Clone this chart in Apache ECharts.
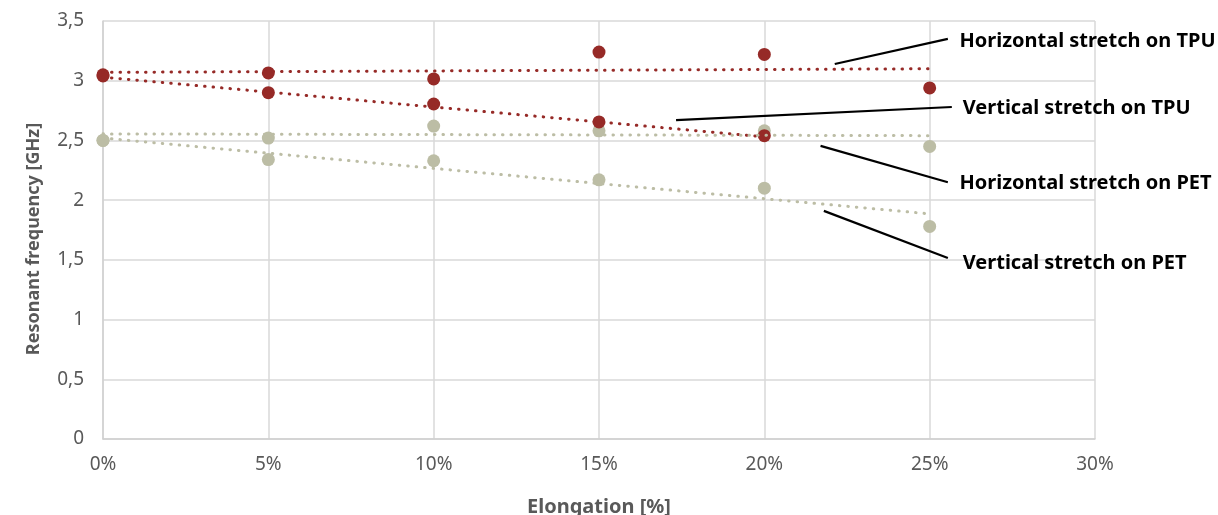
<!DOCTYPE html>
<html>
<head>
<meta charset="utf-8">
<script src="https://cdn.jsdelivr.net/npm/echarts@6/dist/echarts.min.js"></script>
<style>html,body{margin:0;padding:0;background:#fff}#c{width:1218px;height:515px}</style>
</head>
<body>
<div id="c"></div>
<script>
// Elongation categories (%)
const elongation = [0, 5, 10, 15, 20, 25];
// Measured resonant frequencies (GHz)
const horizTPU = [3.05, 3.065, 3.015, 3.24, 3.22, 2.94];
const vertTPU  = [3.04, 2.90, 2.805, 2.655, 2.54];
const horizPET = [2.50, 2.52, 2.62, 2.58, 2.58, 2.45];
const vertPET  = [2.50, 2.34, 2.33, 2.17, 2.10, 1.78];
// Trendline endpoints: [x%, GHz]
const trendHorizTPU = [[0, 3.07], [25, 3.10]];
const trendVertTPU  = [[0, 3.03], [20, 2.53]];
const trendHorizPET = [[0, 2.555], [25, 2.54]];
const trendVertPET  = [[0, 2.52], [25, 1.885]];
// Annotations: label, line start, line end (data coords), label anchor
const annoLabels = ['Horizontal stretch on TPU', 'Vertical stretch on TPU', 'Horizontal stretch on PET', 'Vertical stretch on PET'];
const annoFrom = [[22.13, 3.14], [17.33, 2.67], [21.7, 2.454], [21.8, 1.91]];
const annoTo   = [[25.55, 3.35], [25.67, 2.78], [25.55, 2.15], [25.55, 1.516]];
const annoText = [[25.9, 3.33], [26.0, 2.77], [25.9, 2.14], [26.0, 1.475]];
// Axis ticks
const xTicks = {min: 0, max: 30, interval: 5};
const yTicks = {min: 0, max: 3.5, interval: 0.5};

const RED = '#962a27', GREY = '#bcbda5';
const pts = (vals) => vals.map((v, i) => [elongation[i], v]);
const chart = echarts.init(document.getElementById('c'));
const font = 'Noto Sans';
const trend = (name, data, color) => ({
  name, type: 'line', data, showSymbol: false, symbol: 'none', z: 5, silent: true,
  lineStyle: {color, width: 3, type: [0.5, 8], cap: 'round'}
});
const scatter = (name, vals, color, z) => ({
  name, type: 'scatter', data: pts(vals), symbolSize: 13, z,
  itemStyle: {color, opacity: 1}
});
chart.setOption({
  animation: false,
  grid: {left: 103, right: 123, top: 21, bottom: 76, containLabel: false, outerBoundsMode: 'none'},
  xAxis: {
    type: 'value', min: xTicks.min, max: xTicks.max, interval: xTicks.interval,
    name: 'Elongation [%]', nameLocation: 'middle', nameGap: 58,
    nameTextStyle: {fontFamily: font, fontSize: 20, fontWeight: 'bold', color: '#595959'},
    axisLine: {show: true, lineStyle: {color: '#d0d0d0', width: 1.5}},
    axisTick: {show: false},
    axisLabel: {formatter: v => v + '%', color: '#595959', fontFamily: font, fontSize: 19, margin: 16},
    splitLine: {show: true, lineStyle: {color: '#d9d9d9', width: 1.5}}
  },
  yAxis: {
    type: 'value', min: yTicks.min, max: yTicks.max, interval: yTicks.interval,
    name: 'Resonant frequency [GHz]', nameLocation: 'middle', nameGap: 60,
    nameTextStyle: {fontFamily: font, fontSize: 18, fontWeight: 'bold', color: '#595959', padding: [0, 18, 0, 0]},
    axisLine: {show: true, lineStyle: {color: '#d0d0d0', width: 1.5}},
    axisTick: {show: false},
    axisLabel: {formatter: v => String(v).replace('.', ','), color: '#595959', fontFamily: font, fontSize: 19, margin: 19},
    splitLine: {show: true, lineStyle: {color: '#d9d9d9', width: 1.5}}
  },
  series: [
    scatter('Horizontal stretch on PET', horizPET, GREY, 2),
    scatter('Vertical stretch on PET', vertPET, GREY, 2),
    scatter('Horizontal stretch on TPU', horizTPU, RED, 3),
    scatter('Vertical stretch on TPU', vertTPU, RED, 3),
    trend('Trend H TPU', trendHorizTPU, RED),
    trend('Trend V TPU', trendVertTPU, RED),
    trend('Trend H PET', trendHorizPET, GREY),
    trend('Trend V PET', trendVertPET, GREY)
  ]
});
const graphics = [];
annoLabels.forEach((lab, i) => {
  const a = chart.convertToPixel({gridIndex: 0}, annoFrom[i]);
  const b = chart.convertToPixel({gridIndex: 0}, annoTo[i]);
  const t = chart.convertToPixel({gridIndex: 0}, annoText[i]);
  graphics.push({type: 'line', shape: {x1: a[0], y1: a[1], x2: b[0], y2: b[1]}, style: {stroke: '#000', lineWidth: 2.2}, z: 10});
  graphics.push({type: 'text', x: t[0], y: t[1], style: {text: lab, fill: '#000', font: 'bold 20px "Noto Sans"', textVerticalAlign: 'middle', textAlign: 'left'}, z: 10});
});
chart.setOption({graphic: graphics});
</script>
</body>
</html>
